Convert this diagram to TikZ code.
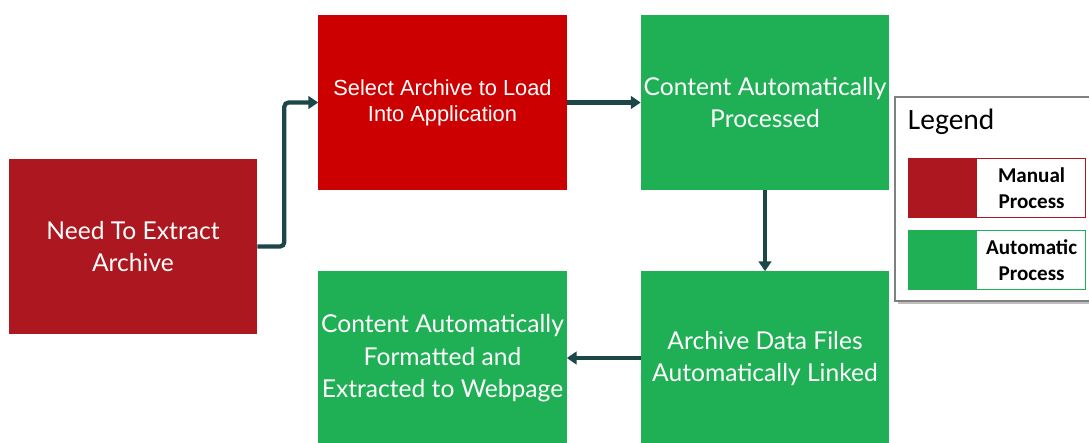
\documentclass[tikz,border=0pt]{standalone}
\usepackage{fontspec}
\setmainfont{Lato}
\newfontfamily\arialfont{Liberation Sans}
\newfontfamily\calibrifont{Carlito}
\usepackage{xcolor}
\usepackage{tikz}
\usetikzlibrary{arrows.meta}
\definecolor{manualred}{HTML}{AD1820}
\definecolor{selectred}{HTML}{CC0000}
\definecolor{autogreen}{HTML}{1FAF54}
\definecolor{flowteal}{HTML}{1D4648}
\tikzset{flow/.style = {-{Triangle[length=7pt,width=9pt]},line width=3pt,draw=flowteal,rounded corners=3pt}}

\begin{document}
\begin{tikzpicture}[x=0.025cm,y=-0.025cm,
    process box/.style={rectangle,minimum width=6.2cm,minimum height=4.35cm,align=center,text=white,font=\fontsize{17.5}{23}\selectfont,inner sep=0pt},
    manual box/.style={process box,fill=manualred},
    auto box/.style={process box,fill=autogreen},
    swatch/.style={rectangle,minimum width=1.7cm,minimum height=1.45cm,inner sep=0pt},
    key label/.style={rectangle,minimum width=2.7cm,minimum height=1.45cm,inner sep=0pt,fill=white,align=center,font=\calibrifont\bfseries\fontsize{15}{18.5}\selectfont}]
    \useasboundingbox (0,0) rectangle (1089,442);

    \node[manual box] (need) at (133,246.5) {Need To Extract\\Archive};
    \node[process box,fill=selectred,font=\arialfont\fontsize{15.5}{18.5}\selectfont] (select) at (442.5,102.5) {Select Archive to Load\\Into Application};
    \node[auto box] (processed) at (765,102.5) {Content Automatically\\Processed};
    \node[auto box] (linked) at (765,358.5) {Archive Data Files\\Automatically Linked};
    \node[auto box] (formatted) at (442.5,358.5) {Content Automatically\\Formatted and\\Extracted to Webpage};

    % legend
    \fill[black!25] (898,100) rectangle (1095,304);
    \draw[fill=white,draw=black!50,line width=1.2pt] (895,97) rectangle (1095,301);
    \node[anchor=west,font=\calibrifont\fontsize{21}{24}\selectfont] (legendtitle) at (903,122) {Legend};
    \node[swatch,fill=manualred] (manualkey) at (943,188) {};
    \node[key label,anchor=west] (manuallabel) at (manualkey.east) {Manual\\Process};
    \draw[manualred,line width=0.8pt] (manualkey.north west) rectangle (manuallabel.south east);
    \node[swatch,fill=autogreen] (autokey) at (943,260) {};
    \node[key label,anchor=west] (autolabel) at (autokey.east) {Automatic\\Process};
    \draw[autogreen,line width=0.8pt] (autokey.north west) rectangle (autolabel.south east);

    \draw[flow] (need.east) -- ++(27,0) |- (select.west);
    \draw[flow] (select) -- (processed);
    \draw[flow] (processed) -- (linked);
    \draw[flow] (linked.west |- 0,358) -- (formatted.east |- 0,358);
\end{tikzpicture}
\end{document}
